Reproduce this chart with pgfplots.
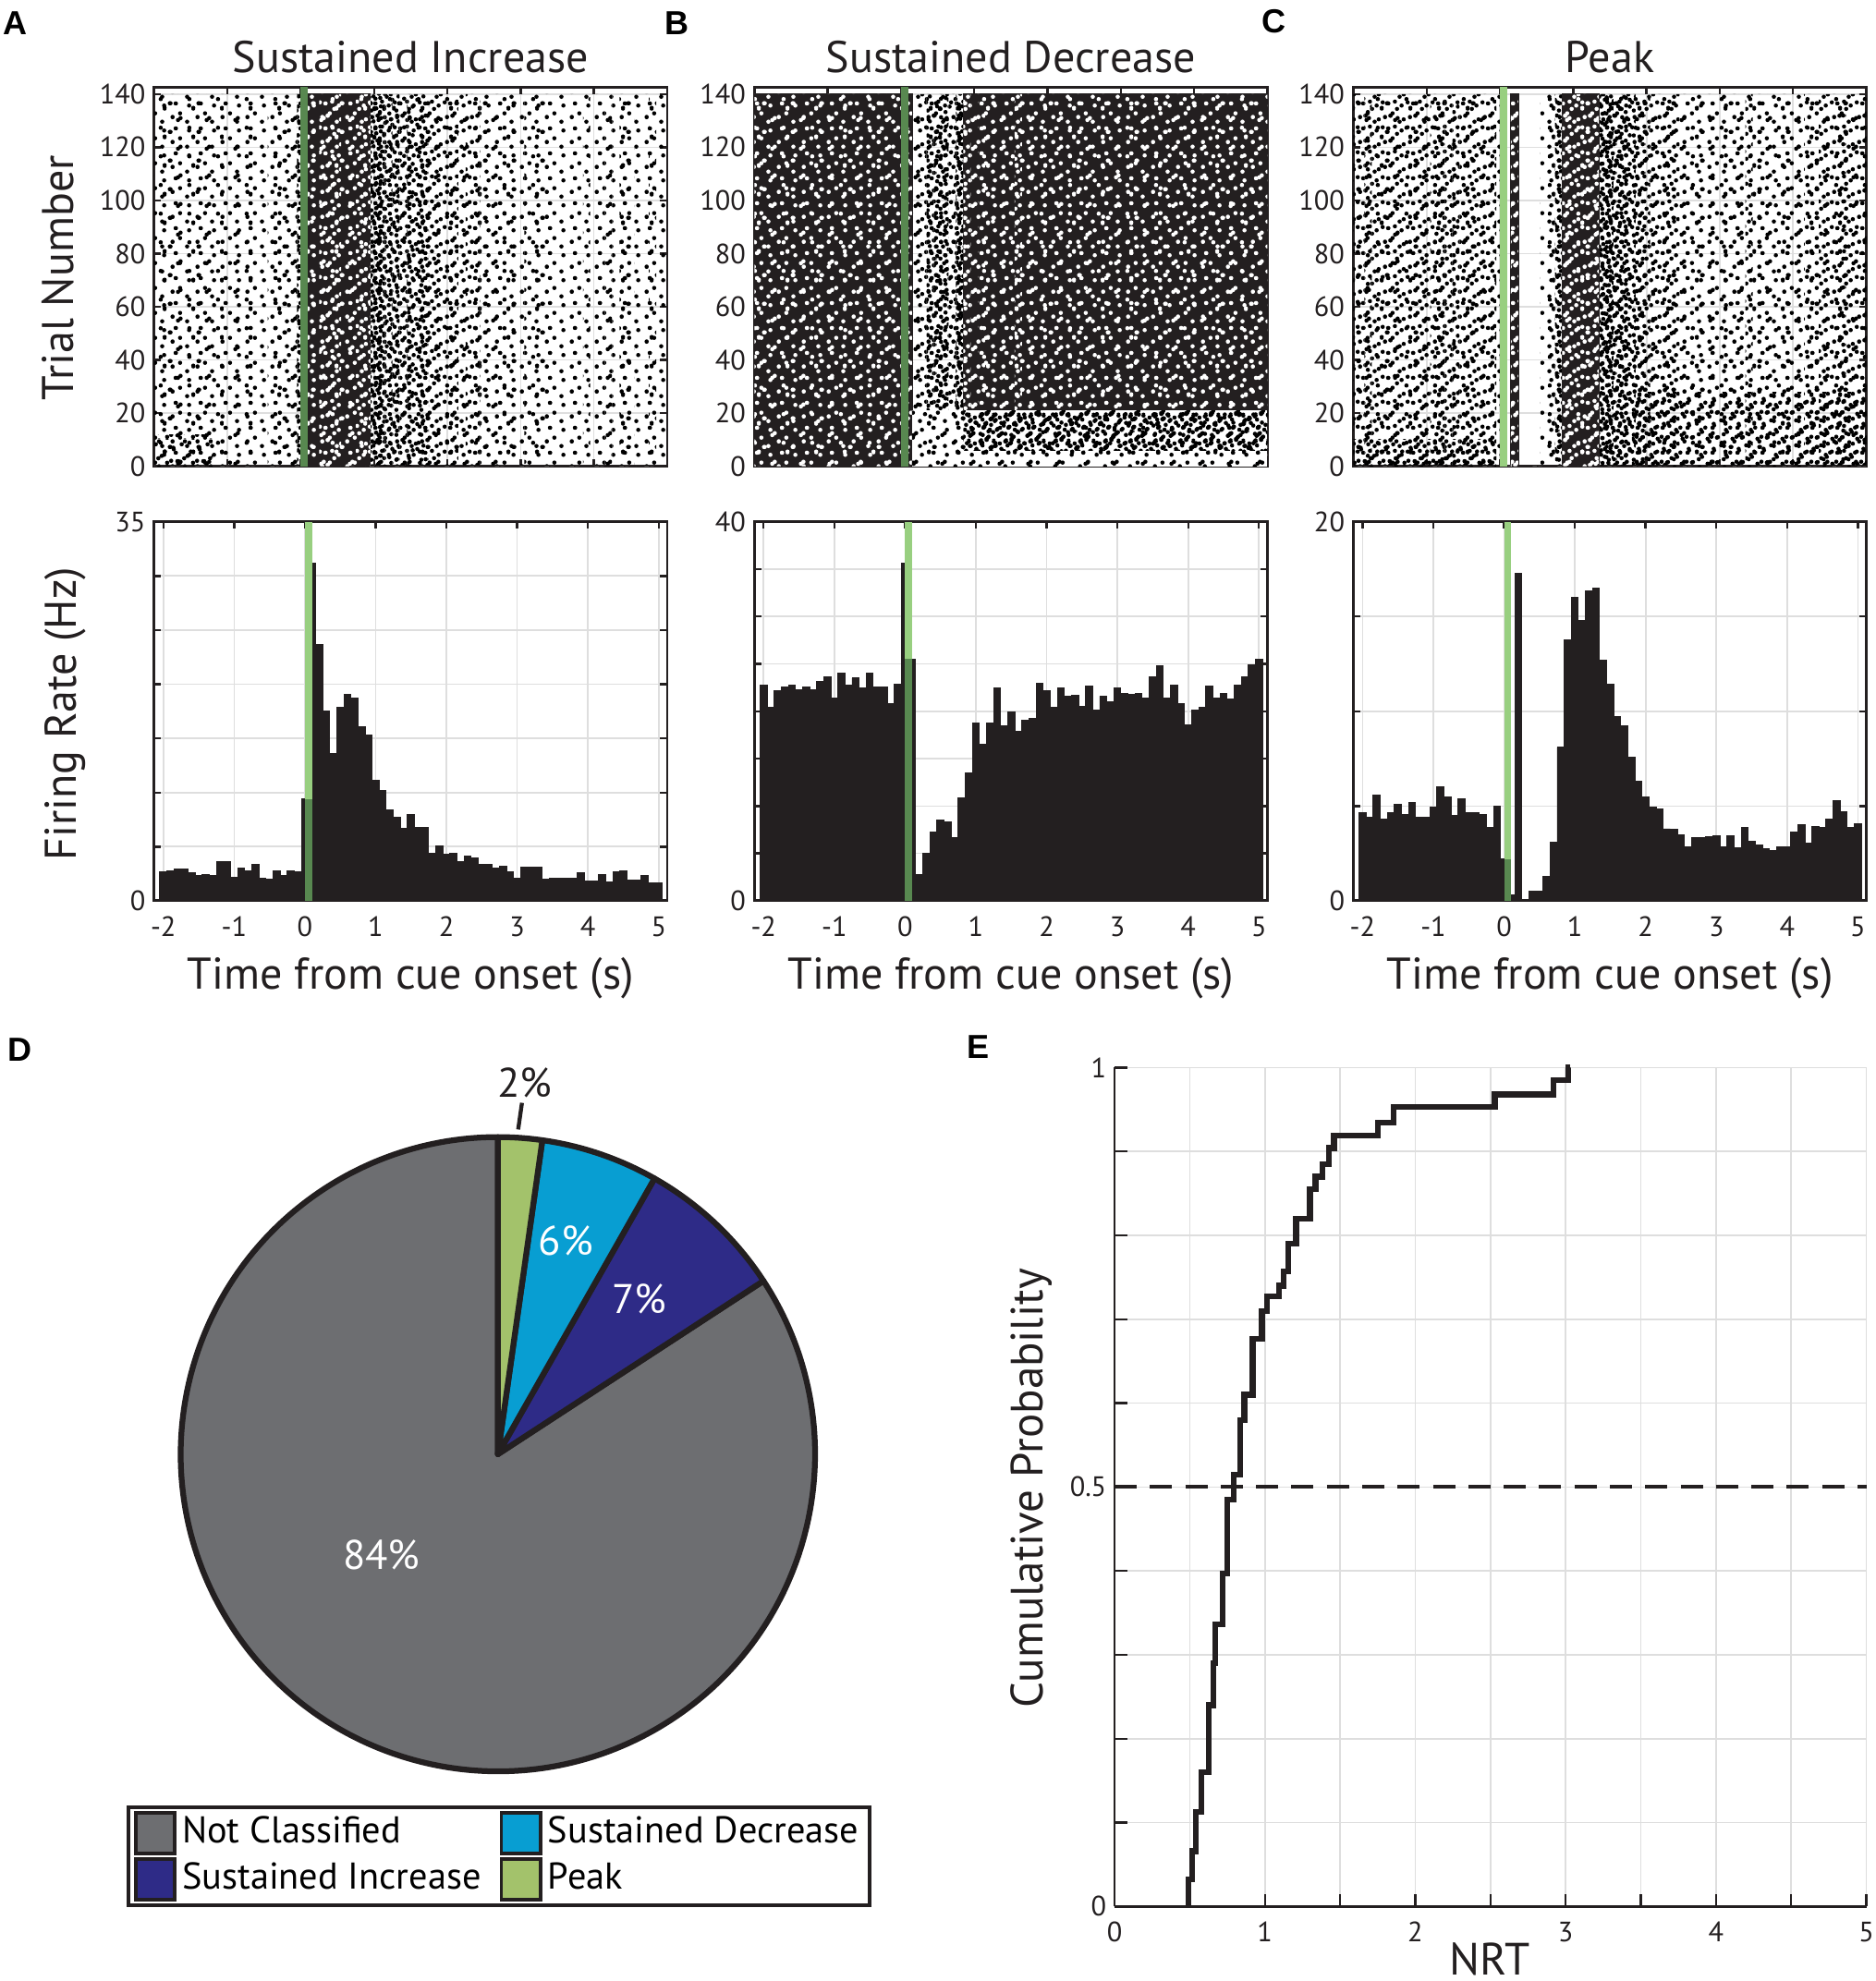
\documentclass[border=0pt]{standalone}
\usepackage{fontspec}
\setmainfont{PT Sans}
\setsansfont{PT Sans}
\newfontfamily\letterfont{Liberation Sans}
\usepackage{pgfplots}
\pgfplotsset{compat=1.18}
\usepackage{pgfplotstable}
\usetikzlibrary{patterns}

\definecolor{K}{RGB}{35,31,32}
\definecolor{GR}{RGB}{222,222,222}
\definecolor{G}{RGB}{152,207,128}
\definecolor{DG}{RGB}{88,136,80}
\definecolor{NC}{RGB}{109,110,113}
\definecolor{SD}{RGB}{8,158,210}
\definecolor{SI}{RGB}{46,43,135}
\definecolor{PK}{RGB}{163,194,107}

% dot tiles used as the texture of the rasters (two tile sizes, overlaid)
\newcommand\dd[2]{%
  \pgfpathcircle{\pgfpoint{#1mm+0.17mm}{#2mm+0.17mm}}{0.17mm}%
  \pgfpathcircle{\pgfpoint{#1mm-1.83mm}{#2mm+0.17mm}}{0.17mm}%
  \pgfpathcircle{\pgfpoint{#1mm+0.17mm}{#2mm-1.83mm}}{0.17mm}%
  \pgfpathcircle{\pgfpoint{#1mm-1.83mm}{#2mm-1.83mm}}{0.17mm}}
\newcommand\de[2]{%
  \pgfpathcircle{\pgfpoint{1.12*#2mm+0.17mm}{1.12*#1mm+0.17mm}}{0.17mm}%
  \pgfpathcircle{\pgfpoint{1.12*#2mm-2.07mm}{1.12*#1mm+0.17mm}}{0.17mm}%
  \pgfpathcircle{\pgfpoint{1.12*#2mm+0.17mm}{1.12*#1mm-2.07mm}}{0.17mm}%
  \pgfpathcircle{\pgfpoint{1.12*#2mm-2.07mm}{1.12*#1mm-2.07mm}}{0.17mm}}
\def\sOne{\dd{0.12}{0.08}\dd{0.69}{1.42}\dd{0.85}{0.71}\dd{1.53}{1.79}\dd{1.78}{0.88}}
\def\sTwo{\dd{0.31}{1.03}\dd{0.48}{0.44}\dd{1.02}{1.61}\dd{1.34}{0.97}\dd{1.96}{1.90}}
\def\sThree{\dd{0.21}{0.64}\dd{0.53}{1.77}\dd{1.14}{1.18}\dd{1.47}{0.31}\dd{1.64}{1.45}}
\def\sFour{\dd{0.06}{1.66}\dd{0.75}{0.84}\dd{0.96}{0.05}\dd{1.29}{1.37}\dd{1.85}{0.48}}
\def\sFive{\dd{0.37}{0.35}\dd{0.43}{1.71}\dd{1.08}{1.99}\dd{1.40}{0.15}\dd{1.61}{1.07}}
\def\sSix{\dd{0.17}{1.47}\dd{0.64}{0.54}\dd{0.90}{0.89}\dd{1.58}{1.19}\dd{1.90}{0.12}}
\def\sSeven{\dd{0.02}{0.81}\dd{0.59}{0.20}\dd{1.17}{1.33}\dd{1.43}{1.74}\dd{1.68}{0.52}}
\def\sEight{\dd{0.26}{1.88}\dd{0.56}{1.23}\dd{1.11}{0.42}\dd{1.25}{0.60}\dd{1.93}{1.51}}
\newcommand\tile[2]{\pgfdeclarepatternformonly{#1}{\pgfpointorigin}{\pgfpoint{2mm}{2mm}}{\pgfpoint{2mm}{2mm}}{#2\pgfusepath{fill}}}
\newcommand\tileB[2]{\pgfdeclarepatternformonly{#1}{\pgfpointorigin}{\pgfpoint{2.24mm}{2.24mm}}{\pgfpoint{2.24mm}{2.24mm}}{\let\dd\de #2\pgfusepath{fill}}}
\tile{q1}{\sOne}
\tile{q2}{\sOne\sTwo}
\tile{q3}{\sOne\sTwo\sThree}
\tile{q4}{\sOne\sTwo\sThree\sFour}
\tileB{r1}{\sEight}
\tileB{r2}{\sEight\sSeven}
\tileB{r3}{\sEight\sSeven\sSix}
\tileB{r4}{\sEight\sSeven\sSix\sFive}
\tile{qy}{\sFive\sSix}

\newcommand\tickf{\fontsize{6.3}{7}\selectfont}
\newcommand\labf{\fontsize{10}{12}\selectfont}
\newcommand\elabf{\fontsize{10.2}{12}\selectfont}
\newcommand\letf{\letterfont\bfseries\fontsize{7.5}{8}\selectfont}
\newcommand\legf{\fontsize{8.4}{10}\selectfont}
\newcommand\pief{\fontsize{9.3}{11}\selectfont}

% firing-rate histograms, bins centred at -2, -1.9, ..., 5 (Hz)
\pgfplotstableread[row sep=\\]{r\\2.7\\2.8\\2.9\\2.9\\2.6\\2.3\\2.4\\2.3\\3.6\\3.6\\2.2\\3.0\\2.8\\3.4\\2.1\\2.0\\2.8\\2.3\\2.8\\2.7\\9.4\\31.2\\23.7\\17.5\\13.6\\17.9\\19.1\\18.75\\16.1\\15.35\\11.1\\10.2\\8.4\\7.75\\6.7\\8.0\\6.75\\6.75\\4.35\\5.1\\4.3\\4.35\\3.65\\4.1\\3.95\\3.4\\3.4\\3.0\\3.2\\2.7\\2.1\\3.1\\3.1\\3.1\\2.0\\2.1\\2.1\\2.1\\2.1\\2.6\\1.8\\1.8\\2.4\\1.76\\2.7\\2.8\\1.9\\1.9\\2.3\\1.7\\1.7\\}\hA
\pgfplotstableread[row sep=\\]{r\\22.8\\20.4\\22.2\\22.6\\22.8\\22.3\\22.6\\22.3\\23.2\\23.6\\21.4\\24.0\\22.8\\23.5\\22.5\\24.0\\22.6\\22.6\\20.8\\22.9\\35.6\\25.5\\2.8\\5.0\\7.3\\8.5\\8.3\\6.7\\10.9\\13.5\\18.75\\16.5\\18.75\\22.5\\18.5\\19.9\\17.9\\19.1\\19.3\\23.0\\22.2\\20.4\\22.5\\21.6\\21.7\\20.5\\22.7\\20.1\\21.6\\21.0\\22.5\\21.9\\21.8\\21.9\\21.4\\23.6\\24.8\\21.4\\22.8\\20.8\\18.6\\20.1\\20.4\\22.7\\21.35\\21.9\\21.3\\22.8\\23.6\\24.9\\25.5\\}\hB
\pgfplotstableread[row sep=\\]{r\\4.65\\4.43\\5.6\\4.3\\4.65\\5.1\\4.55\\5.2\\4.43\\4.43\\4.95\\6.0\\5.5\\4.5\\5.4\\4.65\\4.65\\4.57\\3.85\\5.0\\2.2\\0.3\\17.3\\0.03\\0.5\\0.5\\1.3\\3.1\\8.1\\13.75\\16.0\\14.8\\16.35\\16.5\\12.7\\11.45\\9.7\\9.24\\7.6\\6.3\\5.5\\4.95\\4.86\\3.8\\3.77\\3.5\\2.86\\3.35\\3.35\\3.4\\3.44\\2.86\\3.44\\2.8\\3.85\\3.16\\2.95\\2.74\\2.64\\2.86\\2.83\\3.65\\4.0\\3.04\\3.94\\3.87\\4.3\\5.3\\4.72\\3.87\\4.08\\}\hC

\pgfplotsset{
  base/.style={scale only axis, width=40.6mm, height=30mm, no markers,
    axis line style={K, line width=0.6pt}, tick style={K, line width=0.5pt},
    major tick length=0.55mm, minor tick length=0.55mm, tick align=inside,
    grid=both, major grid style={GR, line width=0.35pt}, minor grid style={GR, line width=0.35pt},
    tick label style={font=\tickf, text=K}, yticklabel style={xshift=0.55mm},
    /pgf/number format/assume math mode=true,
    xtick={-2,-1,0,1,2,3,4,5}},
  rast/.style={base, xmin=-2, xmax=5, ymin=0, ymax=142.6,
    ytick={0,20,40,60,80,100,120,140}, yticklabels={0,20,40,60,80,100,120,140}, xticklabels={}},
  hist/.style={base, xmin=-2.13, xmax=5.12, ymin=0, xticklabels={-2,-1,0,1,2,3,4,5}},
  cls/.style 2 args={ybar, bar width=0.1, bar shift=0, draw=none,
    y filter/.expression={(y>=#1)*(y<#2)*140}},
  hbar/.style={ybar, bar width=0.1, bar shift=0, fill=K, draw=K, line width=0.2pt},
  sw/.style={legend image code/.code={\draw[fill=#1, draw=K, line width=0.8pt] (0mm,-1.6mm) rectangle (3.1mm,1.6mm);}},
}

% raster texture: dot density follows the firing rate of each 0.1 s bin
\newcommand\rp[4]{\addplot[cls={#1}{#2}, #3] table[x expr=-2+0.1*\coordindex, y=r]{#4};}
\newcommand\rasterplots[1]{%
  \rp{0.8}{2.25}{pattern=q1}{#1}
  \rp{2.25}{3.75}{pattern=q1}{#1}\rp{2.25}{3.75}{pattern=r1}{#1}
  \rp{3.75}{5.25}{pattern=q2}{#1}\rp{3.75}{5.25}{pattern=r1}{#1}
  \rp{5.25}{6.75}{pattern=q2}{#1}\rp{5.25}{6.75}{pattern=r2}{#1}
  \rp{6.75}{8.25}{pattern=q3}{#1}\rp{6.75}{8.25}{pattern=r2}{#1}
  \rp{8.25}{9.75}{pattern=q3}{#1}\rp{8.25}{9.75}{pattern=r3}{#1}
  \rp{9.75}{11.25}{pattern=q4}{#1}\rp{9.75}{11.25}{pattern=r3}{#1}
  \rp{11.25}{13.5}{pattern=q4}{#1}\rp{11.25}{13.5}{pattern=r4}{#1}
  \rp{13.5}{100}{fill=K, draw=K, line width=0.3pt}{#1}
  \rp{13.5}{18}{pattern=q2, pattern color=white}{#1}\rp{13.5}{18}{pattern=r1, pattern color=white}{#1}
  \rp{18}{100}{pattern=q1, pattern color=white}{#1}\rp{18}{100}{pattern=r1, pattern color=white}{#1}
}

\def\pPK{2.24}\def\pSD{5.98}\def\pSI{7.58}

\begin{document}
\begin{tikzpicture}
\pgfmathsetmacro\aA{90-3.6*\pPK}
\pgfmathsetmacro\aB{\aA-3.6*\pSD}
\pgfmathsetmacro\aC{\aB-3.6*\pSI}

% ---------- rasters ----------
\begin{axis}[rast, at={(12.2mm,-36.9mm)}, anchor=south west]
  \rasterplots{\hA}
  \addplot[pattern=qy, draw=none] coordinates {(-2,0) (-2,12) (-1.2,12) (-1.2,0)};
  \addplot[fill=DG, draw=none] coordinates {(0,0) (0,142.6) (0.1,142.6) (0.1,0)};
\end{axis}
\begin{axis}[rast, at={(59.7mm,-36.9mm)}, anchor=south west]
  \rasterplots{\hB}
  \addplot[fill=white, draw=none] coordinates {(0.15,0) (0.15,21) (5,21) (5,0)};
  \addplot[pattern=q1, draw=none] coordinates {(0.15,0) (0.15,21) (5,21) (5,0)};
  \addplot[pattern=r1, draw=none] coordinates {(0.15,0) (0.15,21) (5,21) (5,0)};
  \addplot[pattern=q3, draw=none] coordinates {(0.85,6) (0.85,21) (5,21) (5,6)};
  \addplot[pattern=r2, draw=none] coordinates {(0.85,6) (0.85,21) (5,21) (5,6)};
  \addplot[fill=DG, draw=none] coordinates {(0,0) (0,142.6) (0.1,142.6) (0.1,0)};
\end{axis}
\begin{axis}[rast, at={(107.1mm,-36.9mm)}, anchor=south west]
  \rasterplots{\hC}
  \addplot[pattern=qy, draw=none] coordinates {(1.8,0) (1.8,28) (5,28) (5,0)};
  \addplot[pattern=qy, draw=none] coordinates {(-2,0) (-2,10) (-0.05,10) (-0.05,0)};
  \addplot[fill=G, draw=none] coordinates {(0,0) (0,142.6) (0.1,142.6) (0.1,0)};
\end{axis}

% ---------- histograms ----------
\begin{axis}[hist, at={(12.2mm,-71.3mm)}, anchor=south west, ymax=35, ytick={0,35}, yticklabels={0,35}, minor ytick={5,10,15,20,25,30}]
  \addplot[hbar] table[x expr=-2+0.1*\coordindex, y=r]{\hA};
  \addplot[fill=G, draw=none] coordinates {(0,0) (0,35) (0.1,35) (0.1,0)};
  \addplot[fill=DG, draw=none] coordinates {(0,0) (0,9.4) (0.1,9.4) (0.1,0)};
\end{axis}
\begin{axis}[hist, at={(59.7mm,-71.3mm)}, anchor=south west, ymax=40, ytick={0,40}, yticklabels={0,40}, minor ytick={5,10,15,20,25,30,35}]
  \addplot[hbar] table[x expr=-2+0.1*\coordindex, y=r]{\hB};
  \addplot[fill=G, draw=none] coordinates {(0,0) (0,40) (0.1,40) (0.1,0)};
  \addplot[fill=DG, draw=none] coordinates {(0,0) (0,25.5) (0.1,25.5) (0.1,0)};
\end{axis}
\begin{axis}[hist, at={(107.1mm,-71.3mm)}, anchor=south west, ymax=20, ytick={0,20}, yticklabels={0,20}, minor ytick={5,10,15}]
  \addplot[hbar] table[x expr=-2+0.1*\coordindex, y=r]{\hC};
  \addplot[fill=G, draw=none] coordinates {(0,0) (0,20) (0.1,20) (0.1,0)};
  \addplot[fill=DG, draw=none] coordinates {(0,0) (0,2.2) (0.1,2.2) (0.1,0)};
\end{axis}

% ---------- pie ----------
\begin{axis}[at={(39.4mm,-115.1mm)}, anchor=center, scale only axis, width=50.2mm, height=50.2mm,
  xmin=-1, xmax=1, ymin=-1, ymax=1, hide axis, clip=false,
  legend columns=2, legend cell align=left,
  legend style={at={(-0.0847,-0.0538)}, anchor=north west, draw=K, line width=0.8pt, font=\legf,
    inner xsep=0.4mm, inner ysep=0.3mm, row sep=0.2mm,
    /tikz/every even column/.append style={column sep=1.0mm},
    nodes={inner xsep=0.45mm, inner ysep=0.3mm}}]
  \addlegendimage{sw=NC}\addlegendentry{Not Classified}
  \addlegendimage{sw=SD}\addlegendentry{Sustained Decrease}
  \addlegendimage{sw=SI}\addlegendentry{Sustained Increase}
  \addlegendimage{sw=PK}\addlegendentry{Peak}
  \draw[fill=NC, draw=K, line width=1.3pt, line join=round] (axis cs:0,0) -- ++(\aC:25.1mm) arc[start angle=\aC, end angle=-270, radius=25.1mm] -- cycle;
  \draw[fill=SI, draw=K, line width=1.3pt, line join=round] (axis cs:0,0) -- ++(\aB:25.1mm) arc[start angle=\aB, end angle=\aC, radius=25.1mm] -- cycle;
  \draw[fill=SD, draw=K, line width=1.3pt, line join=round] (axis cs:0,0) -- ++(\aA:25.1mm) arc[start angle=\aA, end angle=\aB, radius=25.1mm] -- cycle;
  \draw[fill=PK, draw=K, line width=1.3pt, line join=round] (axis cs:0,0) -- ++(90:25.1mm) arc[start angle=90, end angle=\aA, radius=25.1mm] -- cycle;
  \node[font=\pief, text=K] at (axis cs:0.084,1.171) {2\%};
  \draw[K, line width=0.9pt] (axis cs:0.064,1.024) -- (axis cs:0.076,1.108);
  \node[font=\pief, text=white] at (axis cs:0.214,0.673) {6\%};
  \node[font=\pief, text=white] at (axis cs:0.445,0.490) {7\%};
  \node[font=\pief, text=white] at (axis cs:-0.367,-0.319) {84\%};
\end{axis}

% ---------- CDF ----------
\begin{axis}[scale only axis, width=59.5mm, height=66.4mm, at={(88.2mm,-150.9mm)}, anchor=south west, no markers,
  xmin=0, xmax=5, ymin=0, ymax=1,
  axis x line*=bottom, axis y line*=left, xtick pos=left, ytick pos=left,
  axis line style={K, line width=0.6pt}, tick style={K, line width=0.5pt},
  tick align=inside, major tick length=1mm, minor tick length=1mm,
  xtick={0,1,2,3,4,5}, xticklabels={0,1,2,3,4,5}, minor xtick={0.5,1.5,2.5,3.5,4.5},
  ytick={0,0.5,1}, yticklabels={0,0.5,1}, minor ytick={0.1,0.2,0.3,0.4,0.6,0.7,0.8,0.9},
  grid=both, major grid style={GR, line width=0.35pt}, minor grid style={GR, line width=0.35pt},
  tick label style={font=\tickf, text=K}, yticklabel style={xshift=0.6mm}, clip=false]
  \addplot[K, line width=0.85pt, dash pattern=on 1.75mm off 1.05mm] coordinates {(0,0.5) (5,0.5)};
  \addplot[const plot, K, line width=1.3pt] coordinates {
    (0.491,0) (0.491,0.032) (0.518,0.066) (0.540,0.113) (0.579,0.160) (0.628,0.240)
    (0.656,0.290) (0.672,0.336) (0.720,0.397) (0.749,0.485) (0.793,0.515) (0.837,0.580)
    (0.863,0.610) (0.918,0.677) (0.980,0.710) (1.013,0.727) (1.095,0.740) (1.123,0.757)
    (1.156,0.790) (1.207,0.820) (1.300,0.855) (1.337,0.870) (1.381,0.885) (1.427,0.904)
    (1.460,0.919) (1.751,0.934) (1.857,0.953) (2.529,0.968) (2.919,0.985) (3.018,1.0) (3.03,1.0)};
\end{axis}

% ---------- text ----------
\node[font=\labf, text=K, anchor=base] at (32.5mm,-5.75mm) {Sustained Increase};
\node[font=\labf, text=K, anchor=base] at (80.0mm,-5.75mm) {Sustained Decrease};
\node[font=\labf, text=K, anchor=base] at (127.4mm,-5.75mm) {Peak};
\node[font=\labf, text=K, anchor=base, rotate=90] at (5.83mm,-22.0mm) {Trial Number};
\node[font=\labf, text=K, anchor=base, rotate=90] at (6.0mm,-56.5mm) {Firing Rate (Hz)};
\node[font=\labf, text=K, anchor=base] at (32.5mm,-78.3mm) {Time from cue onset (s)};
\node[font=\labf, text=K, anchor=base] at (80.0mm,-78.3mm) {Time from cue onset (s)};
\node[font=\labf, text=K, anchor=base] at (127.4mm,-78.3mm) {Time from cue onset (s)};
\node[font=\elabf, text=K, anchor=base, rotate=90] at (82.5mm,-117.8mm) {Cumulative Probability};
\node[font=\elabf, text=K, anchor=base, inner sep=0pt] at (117.9mm,-156.3mm) {NRT};
\node[font=\letf, text=black] at (1.2mm,-1.8mm) {A};
\node[font=\letf, text=black] at (53.6mm,-1.8mm) {B};
\node[font=\letf, text=black] at (100.8mm,-1.7mm) {C};
\node[font=\letf, text=black] at (1.6mm,-83.1mm) {D};
\node[font=\letf, text=black] at (77.4mm,-82.9mm) {E};

\pgfresetboundingbox
\path[use as bounding box] (0,0) rectangle (148.4mm,-156.8mm);
\end{tikzpicture}
\end{document}
